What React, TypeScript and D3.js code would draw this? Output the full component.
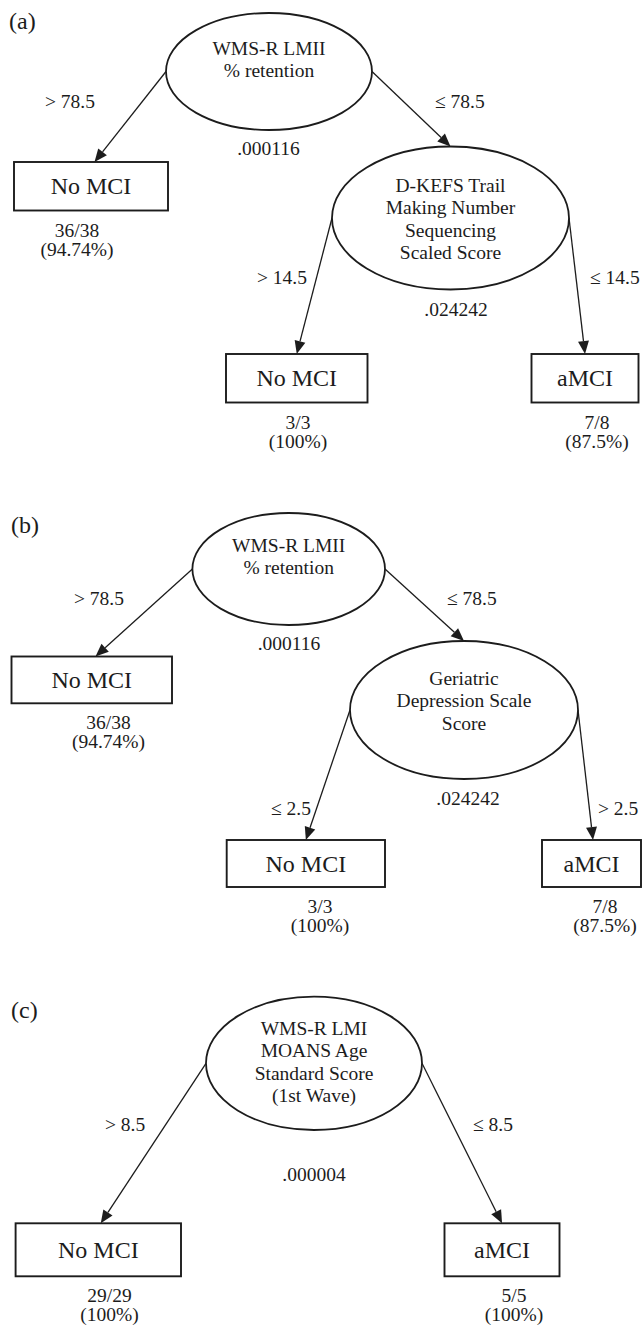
import { useEffect, useRef } from 'react';
import * as d3 from 'd3';

// Three classification trees (a), (b), (c)
const panelLabels = ['(a)', '(b)', '(c)'];
const rootVariables = [
  ['WMS-R LMII', '% retention'],
  ['WMS-R LMII', '% retention'],
  ['WMS-R LMI', 'MOANS Age', 'Standard Score', '(1st Wave)'],
];
const rootPValues = ['.000116', '.000116', '.000004'];
const rootSplits = [
  ['> 78.5', '≤ 78.5'],
  ['> 78.5', '≤ 78.5'],
  ['> 8.5', '≤ 8.5'],
];
const secondVariables = [
  ['D-KEFS Trail', 'Making Number', 'Sequencing', 'Scaled Score'],
  ['Geriatric', 'Depression Scale', 'Score'],
  null,
];
const secondPValues = ['.024242', '.024242', null];
const secondSplits = [['> 14.5', '≤ 14.5'], ['≤ 2.5', '> 2.5'], null];
const leafClasses = [
  ['No MCI', 'No MCI', 'aMCI'],
  ['No MCI', 'No MCI', 'aMCI'],
  ['No MCI', 'aMCI'],
];
const leafCorrect = [[36, 3, 7], [36, 3, 7], [29, 5]];
const leafTotal = [[38, 3, 8], [38, 3, 8], [29, 5]];

// layout of every node (page coordinates)
const layouts = [
  {
    label: [9, 29],
    nodes: {
      r: { cx: 269, cy: 71.5, rx: 103, ry: 58.5, textY: 54.5, pX: 268.5, pY: 155 },
      r0: { x0: 14, x1: 168, y0: 162, y1: 210.5, bX: 45, bY: 108, countX: 77, tipX: 94.5 },
      r1: { cx: 450.5, cy: 218, rx: 118.5, ry: 71.5, textY: 192, pX: 456, pY: 316, bX: 435, bY: 108 },
      r10: { x0: 226, x1: 367.5, y0: 354, y1: 402.5, bX: 257, bY: 284, countX: 298 },
      r11: { x0: 531.5, x1: 638.5, y0: 354, y1: 402.5, bX: 590, bY: 284, countX: 597 },
    },
  },
  {
    label: [11, 533],
    nodes: {
      r: { cx: 288.7, cy: 569, rx: 96.3, ry: 56, textY: 551.5, pX: 289, pY: 650 },
      r0: { x0: 11.5, x1: 172, y0: 656.5, y1: 703.3, bX: 74, bY: 605, countX: 108.5, tipX: 95.5 },
      r1: { cx: 464, cy: 710, rx: 114, ry: 69, textY: 685, pX: 468, pY: 805, bX: 447, bY: 605 },
      r10: { x0: 226.7, x1: 385, y0: 840, y1: 887, bX: 271, bY: 815, countX: 320 },
      r11: { x0: 542, x1: 641, y0: 840, y1: 887, bX: 598, bY: 815, countX: 605, tipX: 593 },
    },
  },
  {
    label: [11, 1018],
    nodes: {
      r: { cx: 314, cy: 1063.3, rx: 108, ry: 66.7, textY: 1035, pX: 314, pY: 1181 },
      r0: { x0: 15.6, x1: 181, y0: 1223.3, y1: 1276.3, bX: 105, bY: 1131, countX: 109.5, tipX: 100.8 },
      r1: { x0: 444.5, x1: 559.5, y0: 1223.3, y1: 1276.3, bX: 473, bY: 1131, countX: 514 },
    },
  },
];

const FONT = '"Liberation Serif", "Times New Roman", Times, serif';
const INK = '#1c1c1c';
const LINE_H = 22.3;

function pctLabel(c: number, t: number) {
  return `(${+((c / t) * 100).toFixed(2)}%)`;
}

function buildTree(i: number) {
  const leaf = (k: number, id: string, branch: string) => ({
    id,
    kind: 'leaf',
    branch,
    cls: leafClasses[i][k],
    correct: leafCorrect[i][k],
    total: leafTotal[i][k],
  });
  const children: any[] = [leaf(0, 'r0', rootSplits[i][0])];
  if (secondVariables[i]) {
    children.push({
      id: 'r1',
      kind: 'split',
      branch: rootSplits[i][1],
      lines: secondVariables[i],
      p: secondPValues[i],
      children: [leaf(1, 'r10', secondSplits[i]![0]), leaf(2, 'r11', secondSplits[i]![1])],
    });
  } else {
    children.push(leaf(1, 'r1', rootSplits[i][1]));
  }
  return { id: 'r', kind: 'split', lines: rootVariables[i], p: rootPValues[i], children };
}

export default function App() {
  const svgRef = useRef<SVGSVGElement>(null);

  useEffect(() => {
    if (!svgRef.current) return;
    const svg = d3.select(svgRef.current);
    svg.selectAll('*').remove();

    panelLabels.forEach((panelLabel, i) => {
      const lay: any = layouts[i];
      const root = d3.hierarchy<any>(buildTree(i));
      const g = svg.append('g').attr('font-family', FONT).attr('fill', INK);

      g.append('text')
        .attr('x', lay.label[0])
        .attr('y', lay.label[1])
        .attr('font-size', 24)
        .text(panelLabel);

      // Edges with arrowheads
      root.links().forEach(({ source, target }) => {
        const s = lay.nodes[source.data.id];
        const t = lay.nodes[target.data.id];
        const side = source.children!.indexOf(target) === 0 ? -1 : 1;
        const x1 = s.cx + side * s.rx;
        const y1 = s.cy;
        const x2 = target.data.kind === 'leaf' ? t.tipX ?? (t.x0 + t.x1) / 2 : t.cx;
        const y2 = target.data.kind === 'leaf' ? t.y0 : t.cy - t.ry;
        const len = Math.hypot(x2 - x1, y2 - y1);
        const ux = (x2 - x1) / len;
        const uy = (y2 - y1) / len;
        const headL = 13;
        const headW = 5.5;
        const bx = x2 - ux * headL;
        const by = y2 - uy * headL;

        g.append('line')
          .attr('x1', x1)
          .attr('y1', y1)
          .attr('x2', bx)
          .attr('y2', by)
          .attr('stroke', INK)
          .attr('stroke-width', 1.3);

        g.append('path')
          .attr(
            'd',
            `M${x2},${y2}L${bx - uy * headW},${by + ux * headW}L${bx + uy * headW},${by - ux * headW}Z`
          )
          .attr('fill', INK);

        g.append('text')
          .attr('x', t.bX)
          .attr('y', t.bY)
          .attr('font-size', 19.5)
          .text(target.data.branch);
      });

      // Nodes
      root.descendants().forEach((d) => {
        const n = lay.nodes[d.data.id];
        if (d.data.kind === 'split') {
          g.append('ellipse')
            .attr('cx', n.cx)
            .attr('cy', n.cy)
            .attr('rx', n.rx)
            .attr('ry', n.ry)
            .attr('fill', '#fff')
            .attr('stroke', INK)
            .attr('stroke-width', 1.8);

          g.append('text')
            .attr('text-anchor', 'middle')
            .attr('font-size', 19.5)
            .selectAll('tspan')
            .data(d.data.lines as string[])
            .enter()
            .append('tspan')
            .attr('x', n.cx)
            .attr('y', (_l, k) => n.textY + k * LINE_H)
            .text((l) => l);

          g.append('text')
            .attr('x', n.pX)
            .attr('y', n.pY)
            .attr('text-anchor', 'middle')
            .attr('font-size', 19.5)
            .text(d.data.p);
        } else {
          g.append('rect')
            .attr('x', n.x0)
            .attr('y', n.y0)
            .attr('width', n.x1 - n.x0)
            .attr('height', n.y1 - n.y0)
            .attr('fill', '#fff')
            .attr('stroke', INK)
            .attr('stroke-width', 1.9);

          g.append('text')
            .attr('x', (n.x0 + n.x1) / 2)
            .attr('y', (n.y0 + n.y1) / 2 + 8)
            .attr('text-anchor', 'middle')
            .attr('font-size', 24)
            .text(d.data.cls);

          g.append('text')
            .attr('x', n.countX)
            .attr('y', n.y1 + 26)
            .attr('text-anchor', 'middle')
            .attr('font-size', 19.5)
            .text(`${d.data.correct}/${d.data.total}`);

          g.append('text')
            .attr('x', n.countX)
            .attr('y', n.y1 + 45)
            .attr('text-anchor', 'middle')
            .attr('font-size', 19.5)
            .text(pctLabel(d.data.correct, d.data.total));
        }
      });
    });
  }, []);

  return (
    <svg
      ref={svgRef}
      width={642}
      height={1330}
      style={{ position: 'absolute', left: 0, top: 0, background: '#fff' }}
    />
  );
}
